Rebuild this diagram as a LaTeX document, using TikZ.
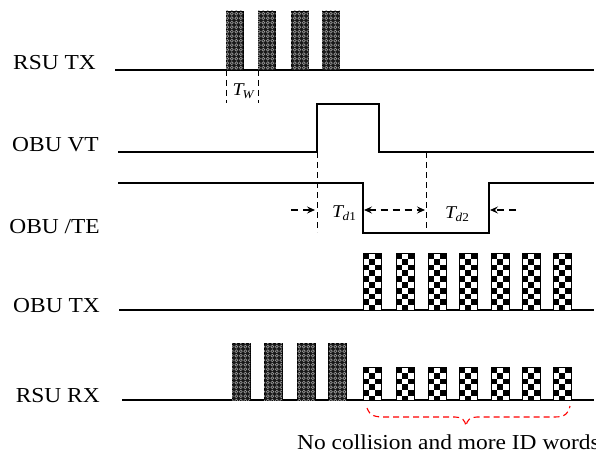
\documentclass[tikz,border=0pt]{standalone}
\usepackage{fontspec}
\setmainfont[FakeStretch=1.1]{Liberation Serif}
\usetikzlibrary{patterns,arrows.meta}
\pgfdeclarepatternformonly{rings}{\pgfpoint{-0.5pt}{-0.5pt}}{\pgfpoint{5pt}{5pt}}{\pgfpoint{4.5pt}{4.5pt}}{%
  \pgfsetlinewidth{0.7pt}\pgfpathcircle{\pgfpoint{2.25pt}{2.25pt}}{1.5pt}\pgfusepath{stroke}}
\newcommand\chkbar[3]{%
  \begin{scope}
    \clip (#1,#2) rectangle (#1+18,#3);
    \fill[white] (#1,#2) rectangle (#1+18,#3);
    \foreach \j in {0,...,10}{\foreach \i in {0,1,2}{%
      \pgfmathtruncatemacro\chkp{mod(\i+\j,2)}%
      \ifnum\chkp=0 \fill[black] (#1+6*\i,#2+5.8*\j) rectangle ++(6,5.8);\fi}}
  \end{scope}
  \draw[line width=0.9pt] (#1,#2) rectangle (#1+18,#3);}
\begin{document}
\begin{tikzpicture}[x=1pt,y=-1pt,
  sig/.style={line width=1.3pt},
  lab/.style={anchor=base east,font=\fontsize{21.3}{24}\selectfont,inner sep=0pt},
  tlab/.style={font=\fontsize{18}{20}\selectfont\itshape,inner sep=0pt},
  dsh/.style={line width=1pt,dash pattern=on 6pt off 4pt},
  arr/.style={line width=1.2pt,dash pattern=on 7pt off 5pt,-{Stealth[length=8pt,width=7pt,inset=3pt]}},
  grb/.style={draw=black,line width=0.9pt,fill=black!90,postaction={pattern=rings,pattern color=black!40}},
  brc/.style={draw=red,line width=1.1pt,dash pattern=on 6pt off 4pt}]
\useasboundingbox (0,0) rectangle (596,457);
% waveforms
\draw[sig] (115,70) -- (594,70);
\coordinate (vtup) at (317,152);
\coordinate (vtdn) at (379,152);
\draw[sig] (118,152) -- (vtup) -- (317,104) -- (379,104) -- (vtdn) -- (594,152);
\coordinate (tedn) at (363,233);
\coordinate (teup) at (489,233);
\draw[sig] (118,183) -- (363,183) -- (tedn) -- (teup) -- (489,183) -- (594,183);
\draw[sig] (119,310) -- (594,310);
\draw[sig] (122,400) -- (594,400);
% labels
\node[lab] (l1) at (96,70) {RSU TX};
\node[lab] (l2) at (99,152) {OBU VT};
\node[lab] (l3) at (100,233) {OBU /TE};
\node[lab] (l4) at (100,312) {OBU TX};
\node[lab] (l5) at (100,402) {RSU RX};
% RSU TX bars
\foreach \x in {226,258,291,322} {\draw[grb] (\x,11) rectangle (\x+17.5,70);}
% RSU RX grey bars
\foreach \x in {232,264,297,328} {\draw[grb] (\x,343) rectangle (\x+18,400);}
% OBU TX checker bars
\foreach \x in {363,396,428,459,491,522,553} {\chkbar{\x}{253}{310}}
% RSU RX checker bars
\foreach \x in {363,396,428,459,491,522,553} {\chkbar{\x}{367}{400}}
% T_W
\coordinate (w1) at (226,70); \coordinate (w1b) at (226,103);
\coordinate (w2) at (258,70); \coordinate (w2b) at (258,103);
\draw[dsh] (w1) -- (w1b);
\draw[dsh] (w2) -- (w2b);
\node[tlab] (tw) at (243,91) {T\kern-1pt\raisebox{-3pt}{\fontsize{12}{13}\selectfont W}};
% dashed verticals
\coordinate (d1b) at (317,232);
\coordinate (d2t) at (426,152);
\coordinate (d2b) at (426,233);
\draw[dsh] (vtup) -- (d1b);
\draw[dsh] (d2t) -- (d2b);
% arrows
\coordinate (a1s) at (291,210); \coordinate (a1e) at (315,210);
\coordinate (a2s) at (364,210); \coordinate (a2e) at (425,210);
\coordinate (a3s) at (516,210); \coordinate (a3e) at (490,210);
\draw[arr] (a1s) -- (a1e);
\draw[arr,{Stealth[length=8pt,width=7pt,inset=3pt]}-{Stealth[length=8pt,width=7pt,inset=3pt]}] (a2s) -- (a2e);
\draw[arr] (a3s) -- (a3e);
\node[tlab] (td1) at (344,213) {T\kern-0.5pt\raisebox{-3pt}{\fontsize{12}{13}\selectfont d\upshape1}};
\node[tlab] (td2) at (457,214) {T\kern-0.5pt\raisebox{-3pt}{\fontsize{12}{13}\selectfont d\upshape2}};
% brace
\draw[brc] (367,408) .. controls (370,416) and (375,417) .. (385,417) -- (455,417)
  .. controls (462,417) and (465,420) .. (466,426)
  .. controls (467,420) and (470,417) .. (477,417) -- (555,417)
  .. controls (565,417) and (569,413) .. (570,406);
\node[anchor=base west,font=\fontsize{21.3}{24}\selectfont,inner sep=0pt] (cap) at (297,449) {No collision and more ID words};
\end{tikzpicture}
\end{document}
